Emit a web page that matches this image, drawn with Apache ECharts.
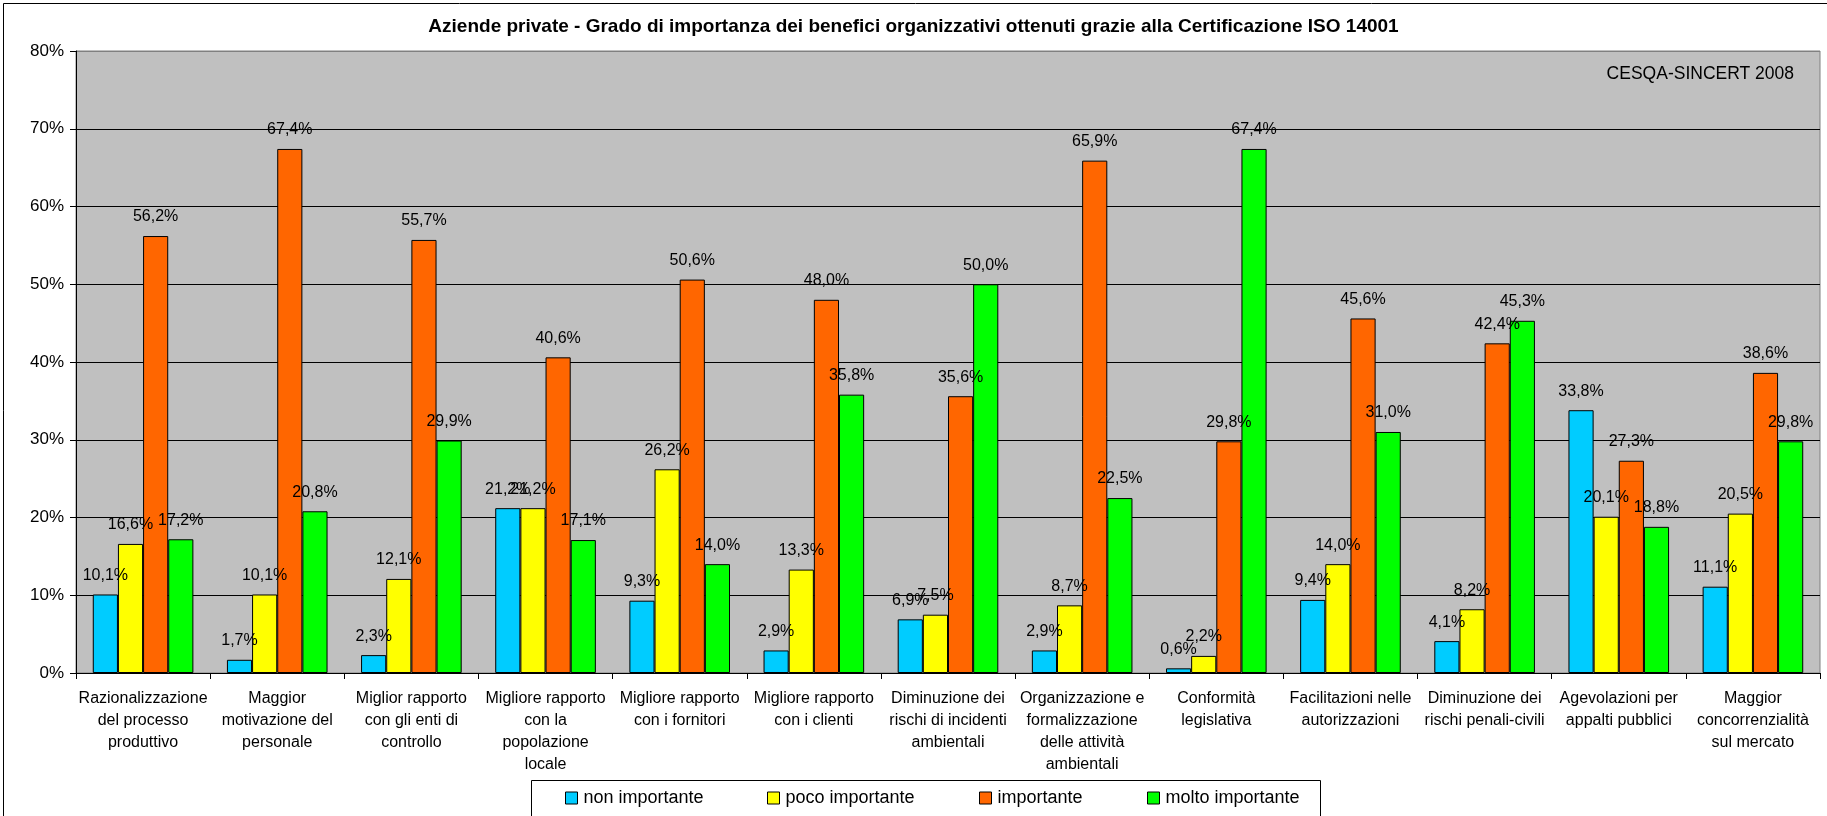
<!DOCTYPE html>
<html>
<head>
<meta charset="utf-8">
<script src="https://cdn.jsdelivr.net/npm/echarts@6/dist/echarts.min.js"></script>
<style>
html,body{margin:0;padding:0;background:#fff;}
#chart{width:1827px;height:816px;}
</style>
</head>
<body>
<div id="chart"></div>
<script>
const titleText = 'Aziende private - Grado di importanza dei benefici organizzativi ottenuti grazie alla Certificazione ISO 14001';
const sourceText = 'CESQA-SINCERT 2008';
const categories = [
  'Razionalizzazione\ndel processo\nproduttivo',
  'Maggior\nmotivazione del\npersonale',
  'Miglior rapporto\ncon gli enti di\ncontrollo',
  'Migliore rapporto\ncon la\npopolazione\nlocale',
  'Migliore rapporto\ncon i fornitori',
  'Migliore rapporto\ncon i clienti',
  'Diminuzione dei\nrischi di incidenti\nambientali',
  'Organizzazione e\nformalizzazione\ndelle attività\nambientali',
  'Conformità\nlegislativa',
  'Facilitazioni nelle\nautorizzazioni',
  'Diminuzione dei\nrischi penali-civili',
  'Agevolazioni per\nappalti pubblici',
  'Maggior\nconcorrenzialità\nsul mercato'
];
const seriesNames = ['non importante', 'poco importante', 'importante', 'molto importante'];
const nonImportante   = [10.1, 1.7, 2.3, 21.2, 9.3, 2.9, 6.9, 2.9, 0.6, 9.4, 4.1, 33.8, 11.1];
const pocoImportante  = [16.6, 10.1, 12.1, 21.2, 26.2, 13.3, 7.5, 8.7, 2.2, 14.0, 8.2, 20.1, 20.5];
const importante      = [56.2, 67.4, 55.7, 40.6, 50.6, 48.0, 35.6, 65.9, 29.8, 45.6, 42.4, 27.3, 38.6];
const moltoImportante = [17.2, 20.8, 29.9, 17.1, 14.0, 35.8, 50.0, 22.5, 67.4, 31.0, 45.3, 18.8, 29.8];
const yTicks = { min: 0, max: 80, interval: 10 };

const colors = ['#00CCFF', '#FFFF00', '#FF6600', '#00FF00'];
const FONT = '"Liberation Sans", Arial, sans-serif';
const fmt = v => v.toFixed(1).replace('.', ',') + '%';

const chart = echarts.init(document.getElementById('chart'), null, {renderer: 'canvas'});
const allData = [nonImportante, pocoImportante, importante, moltoImportante];

const series = allData.map((d, i) => ({
  name: seriesNames[i],
  type: 'bar',
  data: d,
  barGap: '0%',
  barCategoryGap: '25%',
  itemStyle: { color: colors[i], borderColor: '#000', borderWidth: 1 },
  label: {
    show: true, position: 'top', distance: 11,
    formatter: p => fmt(p.value),
    color: '#000', fontFamily: FONT, fontSize: 16
  },
  emphasis: { disabled: true },
  animation: false
}));

const legends = seriesNames.map((n, i) => ({
  data: [{ name: n, itemStyle: { borderColor: '#000', borderWidth: 1 } }],
  left: [565, 767, 979, 1147][i],
  top: 789,
  itemWidth: 12, itemHeight: 12, itemGap: 0,
  padding: 0,
  textStyle: { fontFamily: FONT, fontSize: 18, color: '#000', padding: [0, 0, 0, 1] },
  icon: 'rect',
  selectedMode: false,
  z: 5
}));

const splitColors = ['#000', '#000', '#000', '#000', '#000', '#000', '#000', '#000', '#808080'];

chart.setOption({
  animation: false,
  backgroundColor: '#fff',
  color: colors,
  title: {
    text: titleText,
    left: 'center', top: 12,
    textStyle: { fontFamily: FONT, fontSize: 19, fontWeight: 'bold', color: '#000' }
  },
  graphic: [
    { type: 'rect', left: 1, top: 1, shape: { width: 1824, height: 830 }, style: { fill: 'none', stroke: '#000', lineWidth: 1 }, z: 100 },
    { type: 'rect', left: 531, top: 780, shape: { width: 789, height: 44 }, style: { fill: '#fff', stroke: '#000', lineWidth: 1 }, z: 1 },
    { type: 'text', right: 33, top: 65, style: { text: sourceText, font: '17.5px ' + FONT, fill: '#000' }, z: 10 }
  ],
  legend: legends,
  grid: {
    left: 76, right: 7, top: 51, bottom: 143,
    show: true, backgroundColor: '#C0C0C0', borderColor: '#808080', borderWidth: 1
  },
  xAxis: {
    type: 'category',
    data: categories,
    axisLine: { lineStyle: { color: '#000', width: 1 } },
    axisTick: { show: true, alignWithLabel: false, length: 6, lineStyle: { color: '#000' } },
    axisLabel: { interval: 0, color: '#000', fontFamily: FONT, fontSize: 16, lineHeight: 22.3, margin: 14 }
  },
  yAxis: {
    type: 'value',
    min: yTicks.min, max: yTicks.max, interval: yTicks.interval,
    axisLine: { show: true, lineStyle: { color: '#000' } },
    axisTick: { show: true, length: 6, lineStyle: { color: '#000' } },
    axisLabel: { formatter: '{value}%', color: '#000', fontFamily: FONT, fontSize: 17, margin: 12 },
    splitLine: { show: true, lineStyle: { color: splitColors, width: 1 } }
  },
  series: series
});
</script>
</body>
</html>
